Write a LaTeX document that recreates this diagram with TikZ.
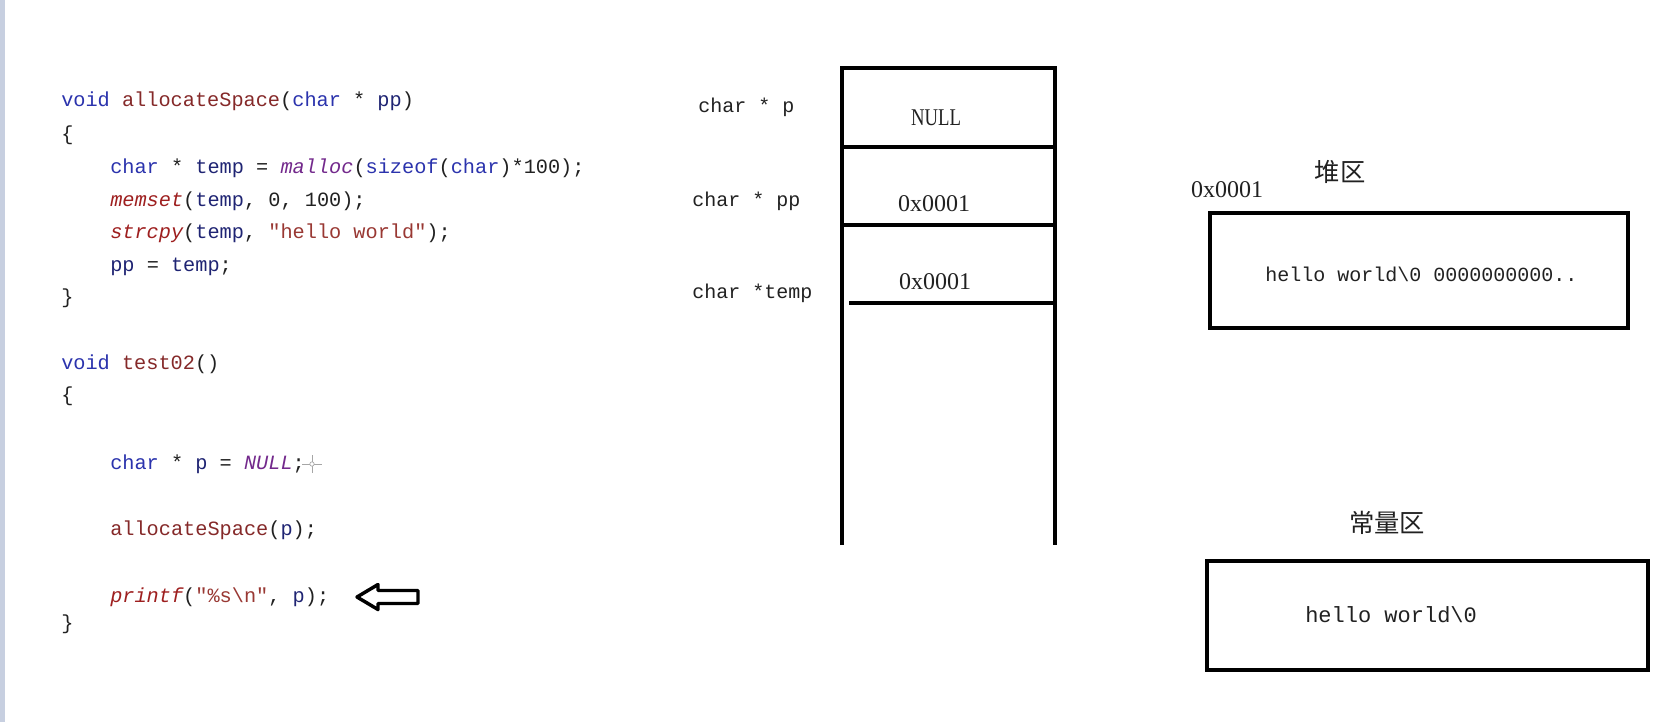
\documentclass[tikz,border=0pt]{standalone}
\usepackage{fontspec}
\newfontfamily\codefont{Liberation Mono}
\newfontfamily\valfont{Liberation Serif}
\newfontfamily\cjkfont{Noto Sans CJK SC}
\definecolor{kwc}{rgb}{0.17,0.2,0.68}
\definecolor{fnc}{rgb}{0.52,0.16,0.16}
\definecolor{varc}{rgb}{0.12,0.14,0.45}
\definecolor{macc}{rgb}{0.45,0.16,0.55}
\definecolor{itc}{rgb}{0.62,0.12,0.12}
\definecolor{strc}{rgb}{0.6,0.22,0.2}
\definecolor{txtc}{rgb}{0.13,0.13,0.13}
\definecolor{stripc}{rgb}{0.78,0.81,0.88}
\newcommand\kwd[1]{\textcolor{kwc}{#1}}
\newcommand\fnm[1]{\textcolor{fnc}{#1}}
\newcommand\vrb[1]{\textcolor{varc}{#1}}
\newcommand\mcr[1]{\textcolor{macc}{\itshape #1}}
\newcommand\itf[1]{\textcolor{itc}{\itshape #1}}
\newcommand\strl[1]{\textcolor{strc}{#1}}
\tikzset{
  code/.style={anchor=base west,inner sep=0pt,text=txtc,font=\codefont\fontsize{15.2pt}{18pt}\selectfont},
  lbl/.style={anchor=west,inner sep=0pt,text=txtc,font=\codefont\fontsize{15pt}{18pt}\selectfont},
  val/.style={inner sep=0pt,text=txtc,font=\valfont\fontsize{18pt}{21pt}\selectfont},
  cjk/.style={inner sep=0pt,text=txtc,font=\cjkfont\fontsize{19pt}{22pt}\selectfont},
  memline/.style={line width=3.2pt,black},
  boxline/.style={line width=3.4pt,black}
}
\begin{document}
\begin{tikzpicture}[x=0.75pt,y=-0.75pt]
\useasboundingbox (0,0) rectangle (1679,722);
\fill[white] (0,0) rectangle (1679,722);
\fill[stripc] (0,0) rectangle (5,722);

% code
\node[code] (c1) at (61,106) {\kwd{void} \fnm{allocateSpace}(\kwd{char} * \vrb{pp})};
\node[code] (c2) at (61,140) {\{};
\node[code] (c3) at (110,173.5) {\kwd{char} * \vrb{temp} = \mcr{malloc}(\kwd{sizeof}(\kwd{char})*100);};
\node[code] (c4) at (110,206) {\itf{memset}(\vrb{temp}, 0, 100);};
\node[code] (c5) at (110,238.5) {\itf{strcpy}(\vrb{temp}, \strl{"hello world"});};
\node[code] (c6) at (110,271.5) {\vrb{pp} = \vrb{temp};};
\node[code] (c7) at (61,303) {\}};

\node[code] (d1) at (61,369.5) {\kwd{void} \fnm{test02}()};
\node[code] (d2) at (61,401.5) {\{};
\node[code] (d3) at (110,469.5) {\kwd{char} * \vrb{p} = \mcr{NULL};};
\node[code] (d4) at (110,535.5) {\fnm{allocateSpace}(\vrb{p});};
\node[code] (d5) at (110,602) {\itf{printf}(\strl{"\%s\textbackslash n"}, \vrb{p});};
\node[code] (d6) at (61,629.5) {\}};

% cursor
\draw[gray!70,line width=0.6pt] (302,464) -- (322,464) (312,455) -- (312,473);
\draw[gray!70,fill=white,line width=0.5pt] (312,464) circle (2.2);

% hollow arrow
\draw[line width=2.6pt,line join=round,fill=white] (357,597) -- (378,584.5) -- (378,590.5) -- (418,590.5) -- (418,603.5) -- (378,603.5) -- (378,609.5) -- cycle;

% stack
\draw[memline,line join=miter] (842,545) -- (842,68) -- (1055,68) -- (1055,545);
\draw[memline] (842,147) -- (1055,147);
\draw[memline] (842,225) -- (1055,225);
\draw[memline] (849,303) -- (1055,303);

\node[lbl] (lp) at (698,107) {char * p};
\node[lbl] (lpp) at (692,201) {char * pp};
\node[lbl] (ltemp) at (692,293) {char *temp};

\node[val] (vnull) at (936,118) {\scalebox{0.78}[1]{NULL}};
\node[val] (vpp) at (934,204) {0x0001};
\node[val] (vtemp) at (935,282) {0x0001};

% heap
\node[cjk] (heapt) at (1340,172) {堆区};
\node[val] (heapaddr) at (1227,190) {0x0001};
\draw[boxline] (1210,213) rectangle (1628,328);
\node[lbl] (heapv) at (1265,274) {hello world\textbackslash0 0000000000..};

% constant area
\node[cjk] (constt) at (1387,523) {常量区};
\draw[boxline] (1207,561) rectangle (1648,670);
\node[lbl,font=\codefont\fontsize{16.5pt}{19pt}\selectfont] (constv) at (1305,615) {hello world\textbackslash0};
\end{tikzpicture}
\end{document}
